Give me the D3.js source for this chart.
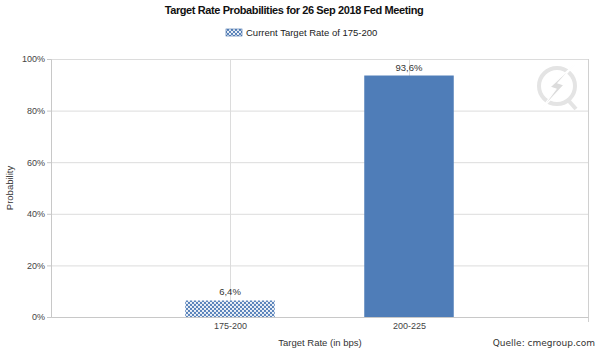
<!DOCTYPE html>
<html>
<head>
<meta charset="utf-8">
<script src="https://cdn.jsdelivr.net/npm/d3@7"></script>
<style>
  body { margin: 0; background: #fff; }
  svg { font-family: "Liberation Sans", Arial, sans-serif; }
</style>
</head>
<body>
<div class="container"></div>
<script>
// data
var categories = ['175-200', '200-225'];
var probabilities = [0.064, 0.936];
var labels = ['6,4%', '93,6%'];
var yTicks = [0, 0.2, 0.4, 0.6, 0.8, 1.0];
var currentRate = '175-200';

var margin = {top: 59, right: 12, bottom: 33, left: 51},
	width = 600 - margin.left - margin.right,
	height = 350 - margin.top - margin.bottom;

// categories sit at 1 and 2 on a 0..3 scale
var x_scale = d3.scaleLinear()
	.domain([0, categories.length + 1])
	.range([0, width]);

var y_scale = d3.scaleLinear()
	.domain([0, 1])
	.range([height, 0]);

var svg = d3.select('.container').append('svg')
	.attr('width', 600)
	.attr('height', 350);

// pattern for the current rate bar (white dots on a diagonal lattice)
var defs = svg.append('defs');
var pat = defs.append('pattern')
	.attr('id', 'hatch')
	.attr('patternUnits', 'userSpaceOnUse')
	.attr('width', 4)
	.attr('height', 4);
pat.append('rect').attr('width', 4).attr('height', 4).attr('fill', '#4a78b4');
[[0, 0], [4, 0], [0, 4], [4, 4], [2, 2]].forEach(function(p) {
	pat.append('circle')
		.attr('cx', p[0]).attr('cy', p[1])
		.attr('r', 1.15)
		.attr('fill', '#f2f5fa');
});

// title + legend
svg.append('text')
	.attr('x', 294)
	.attr('y', 14)
	.attr('text-anchor', 'middle')
	.attr('font-size', 11)
	.attr('font-weight', 'bold')
	.attr('letter-spacing', -0.4)
	.attr('fill', '#111')
	.text('Target Rate Probabilities for 26 Sep 2018 Fed Meeting');

svg.append('rect')
	.attr('x', 226).attr('y', 29)
	.attr('width', 16).attr('height', 7)
	.attr('fill', 'url(#hatch)')
	.attr('stroke', '#3d6aa5')
	.attr('stroke-width', 0.6);
svg.append('text')
	.attr('x', 246).attr('y', 36)
	.attr('font-size', 9.5)
	.attr('fill', '#222')
	.text('Current Target Rate of ' + currentRate);

var canvas = svg.append('g')
	.attr('transform', 'translate(' + margin.left + ',' + margin.top + ')');

// watermark
var wm = canvas.append('g')
	.attr('transform', 'translate(' + (width - 31) + ',' + 27 + ')')
	.attr('fill', 'none')
	.attr('stroke', '#e4e4e4');
wm.append('circle').attr('r', 18).attr('stroke-width', 4);
wm.append('path').attr('d', 'M11,14 L19,23').attr('stroke-width', 4);
wm.append('path')
	.attr('d', 'M20,-24 L1,-3 L7,-1 L-18,26 L-1,3 L-7,1 Z')
	.attr('fill', '#dcdcdc')
	.attr('stroke', '#fff')
	.attr('stroke-width', 1.2);

// horizontal grid
canvas.append('g')
	.selectAll('line')
	.data(yTicks)
	.enter()
	.append('line')
	.attr('x1', 0).attr('x2', width)
	.attr('y1', function(d) { return y_scale(d) + 0.5; })
	.attr('y2', function(d) { return y_scale(d) + 0.5; })
	.attr('stroke', '#dcdcdc');

// vertical grid at categories
canvas.append('g')
	.selectAll('line')
	.data(categories)
	.enter()
	.append('line')
	.attr('x1', function(d, i) { return Math.round(x_scale(i + 1)) + 0.5; })
	.attr('x2', function(d, i) { return Math.round(x_scale(i + 1)) + 0.5; })
	.attr('y1', 0).attr('y2', height)
	.attr('stroke', '#dcdcdc');

// right border
canvas.append('line')
	.attr('x1', width + 0.5).attr('x2', width + 0.5)
	.attr('y1', 0).attr('y2', height + 5)
	.attr('stroke', '#d0d0d0');

// bars
var barW = x_scale(0.5) - x_scale(0);
canvas.selectAll('.bar')
	.data(probabilities)
	.enter()
	.append('rect')
	.attr('class', 'bar')
	.attr('x', function(d, i) { return x_scale(i + 1) - barW / 2; })
	.attr('y', function(d) { return y_scale(d); })
	.attr('width', barW)
	.attr('height', function(d) { return height - y_scale(d); })
	.attr('fill', function(d, i) { return categories[i] === currentRate ? 'url(#hatch)' : '#4f7db8'; });

// value labels
canvas.selectAll('.lbl')
	.data(probabilities)
	.enter()
	.append('text')
	.attr('class', 'lbl')
	.attr('x', function(d, i) { return x_scale(i + 1); })
	.attr('y', function(d) { return y_scale(d) - 5; })
	.attr('text-anchor', 'middle')
	.attr('font-size', 9.5)
	.attr('fill', '#333')
	.text(function(d, i) { return labels[i]; });

// y axis
var y_axis = d3.axisLeft(y_scale)
	.tickValues(yTicks)
	.tickSize(4)
	.tickFormat(function(d) { return Math.round(d * 100) + '%'; });
var gy = canvas.append('g').call(y_axis);
gy.select('.domain').attr('stroke', '#c8c8c8');
gy.selectAll('.tick line').attr('stroke', '#c8c8c8');
gy.selectAll('.tick text')
	.attr('font-size', 9)
	.attr('font-family', '"Liberation Sans", Arial, sans-serif')
	.attr('fill', '#444')
	.attr('x', -6);

// x axis
var x_axis = d3.axisBottom(x_scale)
	.tickValues(categories.map(function(d, i) { return i + 1; }))
	.tickSize(0)
	.tickFormat(function(d) { return categories[d - 1]; });
var gx = canvas.append('g')
	.attr('transform', 'translate(0,' + height + ')')
	.call(x_axis);
gx.select('.domain').attr('stroke', '#c8c8c8');
gx.selectAll('.tick text')
	.attr('font-size', 9)
	.attr('font-family', '"Liberation Sans", Arial, sans-serif')
	.attr('fill', '#444')
	.attr('dy', '0.71em')
	.attr('y', 6);

// axis titles
svg.append('text')
	.attr('transform', 'translate(13,' + (margin.top + height / 2) + ') rotate(-90)')
	.attr('text-anchor', 'middle')
	.attr('font-size', 9.5)
	.attr('fill', '#333')
	.text('Probability');

svg.append('text')
	.attr('x', 320).attr('y', 346)
	.attr('text-anchor', 'middle')
	.attr('font-size', 9.5)
	.attr('fill', '#333')
	.text('Target Rate (in bps)');

svg.append('text')
	.attr('x', 595).attr('y', 346)
	.attr('text-anchor', 'end')
	.attr('font-family', '"DejaVu Sans", Verdana, sans-serif')
	.attr('font-size', 9)
	.attr('fill', '#333')
	.text('Quelle: cmegroup.com');
</script>
</body>
</html>
